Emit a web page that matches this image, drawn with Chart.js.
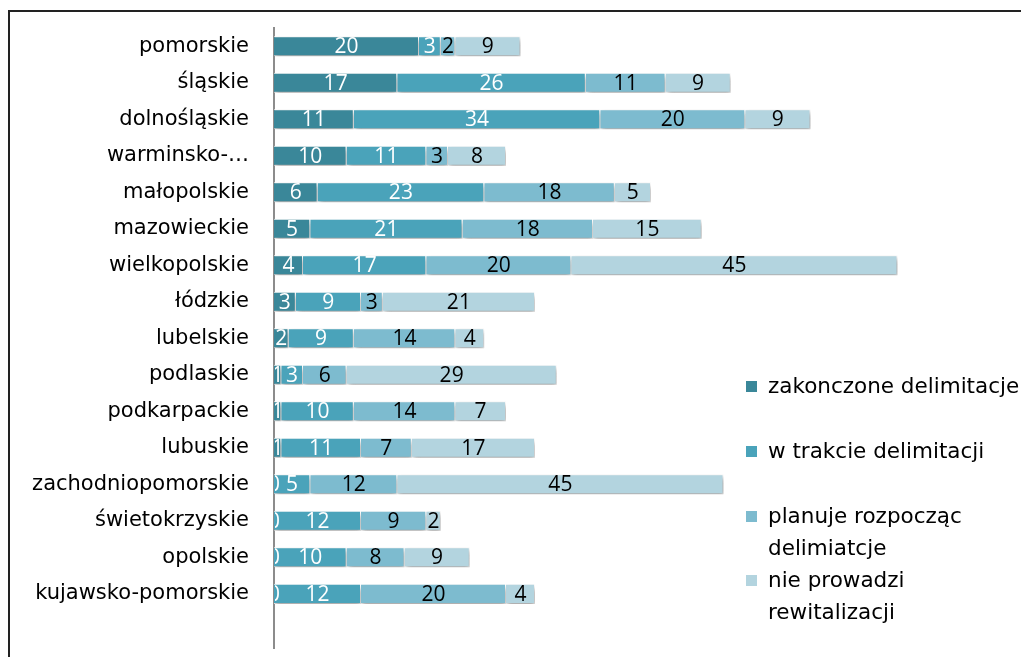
<!DOCTYPE html>
<html>
<head>
<meta charset="utf-8">
<script src="https://cdn.jsdelivr.net/npm/chart.js@4.4.1/dist/chart.umd.min.js"></script>
<style>
  html, body { margin: 0; padding: 0; background: #fff; }
  #wrap { position: relative; width: 1021px; height: 657px; }
</style>
</head>
<body>
<div id="wrap"><canvas id="c" width="1021" height="657"></canvas></div>
<script>
const categories = ["pomorskie", "śląskie", "dolnośląskie", "warminsko-…", "małopolskie", "mazowieckie", "wielkopolskie", "łódzkie", "lubelskie", "podlaskie", "podkarpackie", "lubuskie", "zachodniopomorskie", "świetokrzyskie", "opolskie", "kujawsko-pomorskie", ""];
const seriesNames = ["zakonczone delimitacje", "w trakcie delimitacji", ["planuje rozpocząc", "delimiatcje"], ["nie prowadzi", "rewitalizacji"]];
const zakonczone = [20, 17, 11, 10, 6, 5, 4, 3, 2, 1, 1, 1, 0, 0, 0, 0, null];
const wTrakcie   = [3, 26, 34, 11, 23, 21, 17, 9, 9, 3, 10, 11, 5, 12, 10, 12, null];
const planuje    = [2, 11, 20, 3, 18, 18, 20, 3, 14, 6, 14, 7, 12, 9, 8, 20, null];
const nieProw    = [9, 9, 9, 8, 5, 15, 45, 21, 4, 29, 7, 17, 45, 2, 9, 4, null];
const colors = ["#3a8799", "#4aa3ba", "#7dbbcf", "#b3d4df"];
const labelColors = ["#ffffff", "#ffffff", "#000000", "#000000"];
const FONT = "'DejaVu Sans', 'Open Sans', sans-serif";
const NUMFONT = "'Open Sans', 'DejaVu Sans', sans-serif";

const seriesData = [zakonczone, wTrakcie, planuje, nieProw];

const shadowPlugin = {
  id: 'shadow',
  beforeDatasetsDraw(chart) {
    const ctx = chart.ctx;
    ctx.save();
    ctx.shadowColor = 'rgba(0,0,0,0.4)';
    ctx.shadowBlur = 5;
    ctx.shadowOffsetX = 1;
    ctx.shadowOffsetY = 3;
  },
  afterDatasetsDraw(chart) {
    chart.ctx.restore();
  }
};

const labelPlugin = {
  id: 'valueLabels',
  afterDatasetsDraw(chart) {
    const ctx = chart.ctx;
    const a = chart.chartArea;
    ctx.save();
    ctx.beginPath();
    ctx.rect(a.left + 1, a.top, a.right - a.left, a.bottom - a.top);
    ctx.clip();
    ctx.font = "21px " + NUMFONT;
    ctx.textAlign = 'center';
    ctx.textBaseline = 'middle';
    chart.data.datasets.forEach((ds, i) => {
      const meta = chart.getDatasetMeta(i);
      meta.data.forEach((el, j) => {
        const v = ds.data[j];
        if (v === null || v === undefined) return;
        const cx = (el.x + el.base) / 2;
        ctx.fillStyle = labelColors[i];
        ctx.fillText(String(v), cx, el.y + 1);
      });
    });
    ctx.restore();
  }
};

const legendPlugin = {
  id: 'customLegend',
  afterDraw(chart) {
    const ctx = chart.ctx;
    ctx.save();
    ctx.font = "21.5px " + FONT;
    ctx.textBaseline = 'middle';
    ctx.textAlign = 'left';
    const ys = [386, 451, 516, 580];
    seriesNames.forEach((name, i) => {
      const y = ys[i];
      ctx.fillStyle = colors[i];
      ctx.fillRect(746, y - 5, 11, 11);
      ctx.fillStyle = '#000';
      const lines = Array.isArray(name) ? name : [name];
      lines.forEach((ln, k) => ctx.fillText(ln, 768, y + 1 + k * 32));
    });
    // outer frame
    ctx.strokeStyle = '#222';
    ctx.lineWidth = 2;
    ctx.beginPath();
    ctx.moveTo(9, 657);
    ctx.lineTo(9, 11);
    ctx.lineTo(1021, 11);
    ctx.stroke();
    ctx.restore();
  }
};

new Chart(document.getElementById('c'), {
  type: 'bar',
  data: {
    labels: categories,
    datasets: seriesData.map((d, i) => ({
      label: Array.isArray(seriesNames[i]) ? seriesNames[i].join(' ') : seriesNames[i],
      data: d,
      backgroundColor: colors[i],
      borderColor: '#ffffff',
      borderWidth: 1,
      barPercentage: 0.55,
      categoryPercentage: 1.0
    }))
  },
  options: {
    indexAxis: 'y',
    responsive: false,
    animation: false,
    layout: { padding: { top: 28, bottom: 8, right: 22, left: 0 } },
    plugins: { legend: { display: false }, tooltip: { enabled: false } },
    scales: {
      x: { stacked: true, display: false, min: 0, max: 100 },
      y: {
        stacked: true,
        grid: { display: true, drawOnChartArea: false, drawTicks: true, tickLength: 25, color: 'rgba(0,0,0,0)' },
        border: { display: true, color: '#8c8c8c', width: 2 },
        ticks: { color: '#000', font: { family: FONT, size: 21, lineHeight: 0.8 }, padding: 0, autoSkip: false },
        afterFit(scale) { scale.width = 274; }
      }
    }
  },
  plugins: [shadowPlugin, labelPlugin, legendPlugin]
});
</script>
</body>
</html>
